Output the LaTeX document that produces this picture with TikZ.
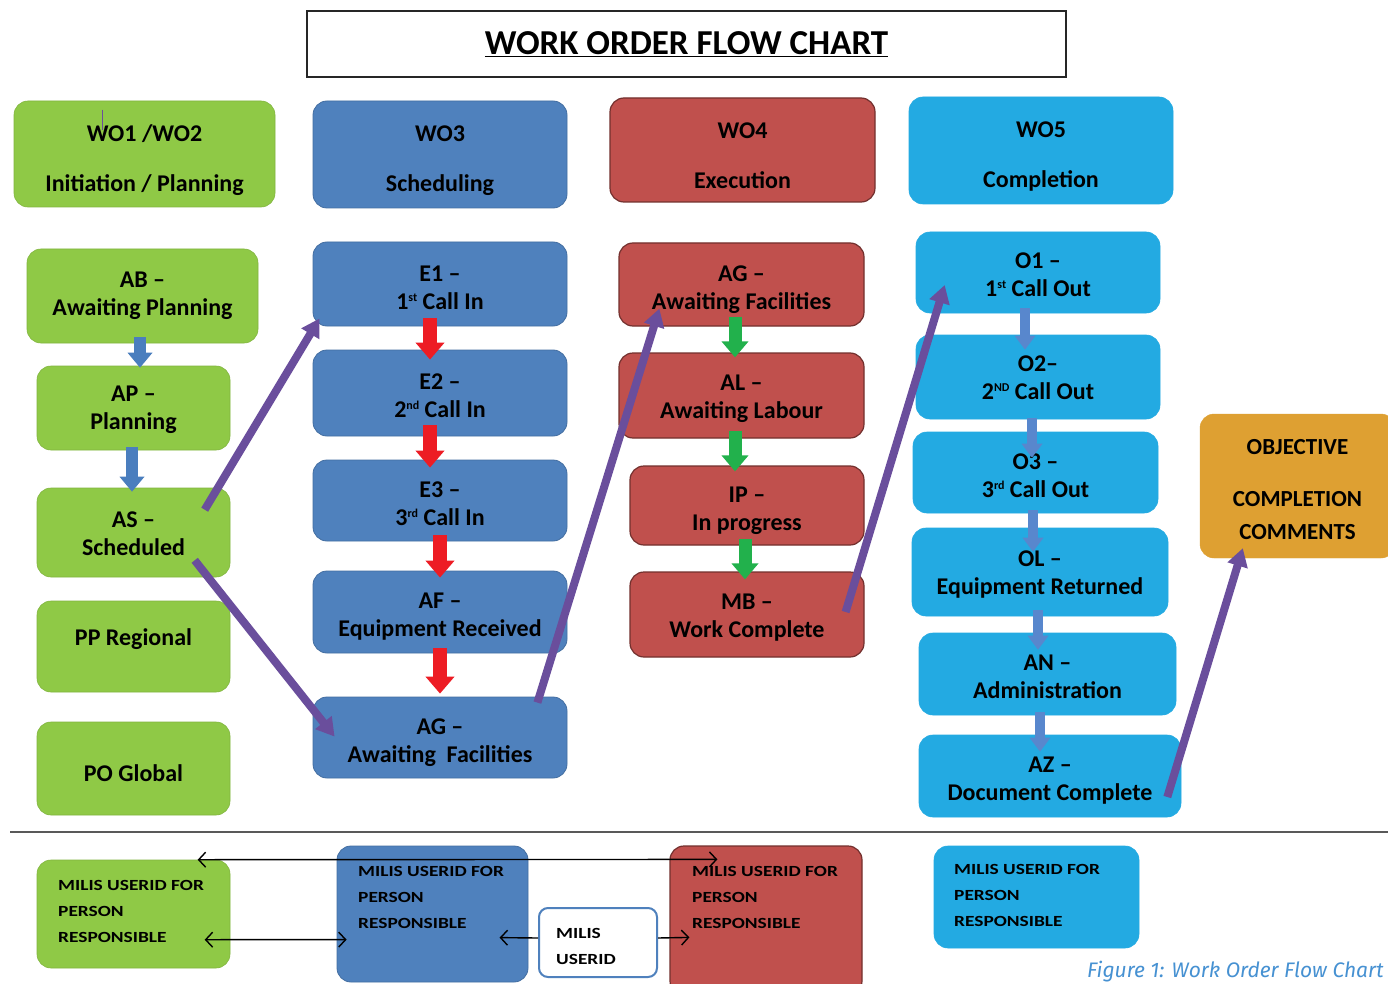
\documentclass[tikz,border=0pt]{standalone}
\usepackage{fontspec}
\setmainfont{Carlito}
\newfontfamily\widefont{Carlito}[FakeStretch=1.25]
\newfontfamily\capfont{Fira Sans}
\usetikzlibrary{arrows.meta,calc}
\definecolor{cgreen}{RGB}{143,201,70}
\definecolor{cblue}{RGB}{79,129,189}
\definecolor{cred}{RGB}{192,80,77}
\definecolor{ccyan}{RGB}{35,170,226}
\definecolor{corange}{RGB}{222,160,50}
\definecolor{cpurple}{RGB}{106,78,156}
\definecolor{arrred}{RGB}{237,28,36}
\definecolor{arrgreen}{RGB}{34,177,76}
\definecolor{arrblue}{RGB}{74,126,190}
\definecolor{arrcyan}{RGB}{88,135,205}
\definecolor{capblue}{RGB}{70,145,210}
\newcommand\sups[1]{\raisebox{8pt}{\fontsize{12}{12}\selectfont #1}}
\tikzset{
  box/.style={rounded corners=14pt, inner sep=0pt},
  gbox/.style={box, fill=cgreen, draw=cgreen!90!black, line width=0.6pt},
  bbox/.style={box, fill=cblue, draw=cblue!85!black, line width=0.8pt},
  rbox/.style={box, fill=cred, draw=cred!60!black, line width=1.2pt},
  cbox/.style={box, fill=ccyan, draw=ccyan, line width=0.6pt},
  obox/.style={box, fill=corange, draw=corange},
  mubox/.style={box, rounded corners=9pt, fill=white, draw=cblue, line width=2pt},
  bt/.style={inner sep=0pt, align=center, font=\fontsize{24}{28}\selectfont\bfseries},
  ht/.style={bt, font=\fontsize{24}{50}\selectfont\bfseries},
  ot/.style={bt, font=\fontsize{23}{33}\selectfont\bfseries},
  btxt/.style={anchor=north west, inner sep=0pt, align=left,
    font=\widefont\bfseries\fontsize{15.5}{26}\selectfont},
  redarr/.style={draw=arrred, line width=14pt, -{Triangle[width=28pt,length=17pt]}},
  grnarr/.style={draw=arrgreen, line width=13pt, -{Triangle[width=26pt,length=16pt]}},
  bluarr/.style={draw=arrblue, line width=12pt, -{Triangle[width=24pt,length=15pt]}},
  cyarr/.style={draw=arrcyan, line width=10pt, -{Triangle[width=20pt,length=14pt]}},
  purarr/.style={draw=cpurple, line width=8pt, -{Triangle[width=20pt,length=18pt]}},
  thinarr/.style={draw=black, line width=1.4pt, {Straight Barb[length=7pt,width=15pt]}-{Straight Barb[length=7pt,width=15pt]}},
  thinarr1/.style={draw=black, line width=1.4pt, -{Straight Barb[length=7pt,width=15pt]}}
}
% box with text: name, x1, y1, x2, y2, box style, text style, text dy, text
\newcommand\bx[9]{\node[#6, minimum width={#4-#2}, minimum height={#5-#3}] (#1) at ({(#2+#4)/2},{(#3+#5)/2}) {};
  \node[#7] (#1-t) at ($(#1.center)+(0,#8)$) {#9};}
% empty box
\newcommand\bxe[6]{\node[#6, minimum width={#4-#2}, minimum height={#5-#3}] (#1) at ({(#2+#4)/2},{(#3+#5)/2}) {};}
\begin{document}
\begin{tikzpicture}[x=1pt,y=-1pt]
\useasboundingbox (0,0) rectangle (1388,984);
\clip (0,0) rectangle (1388,984);
\fill[white] (0,0) rectangle (1388,984);

% title
\node[draw=black!85, line width=1.5pt, minimum width=759, minimum height=66, inner sep=0pt,
  font=\fontsize{35}{40}\selectfont\bfseries] (title) at (686.5,44) {\underline{WORK ORDER FLOW CHART}};

% column 1
\bx{wo1}{14}{101}{275}{207}{gbox}{ht}{6}{WO1 /WO2\\Initiation / Planning}
\bx{ab}{27}{249}{258}{343}{gbox}{bt}{0}{AB --\\Awaiting Planning}
\bx{ap}{37}{366}{230}{450}{gbox}{bt}{2}{AP --\\Planning}
\bx{as}{37}{488}{230}{577}{gbox}{bt}{1.5}{AS --\\Scheduled}
\bx{pp}{37}{601}{230}{692}{gbox}{bt}{-7}{PP Regional}
\bx{po}{37}{722}{230}{815}{gbox}{bt}{5}{PO Global}
\draw[cpurple, line width=1.5pt] ($(wo1.north west)+(89,9)$) -- ($(wo1.north west)+(89,29)$);

% column 2
\bx{wo3}{313}{101}{567}{208}{bbox}{ht}{6}{WO3\\Scheduling}
\bx{e1}{313}{242}{567}{326}{bbox}{bt}{4}{E1 --\\1\sups{st} Call In}
\bx{e2}{313}{350}{567}{436}{bbox}{bt}{3}{E2 --\\2\sups{nd} Call In}
\bx{e3}{313}{460}{567}{541}{bbox}{bt}{3}{E3 --\\3\sups{rd} Call In}
\bx{af}{313}{571}{567}{653}{bbox}{bt}{5}{AF --\\Equipment Received}
\bx{agb}{313}{697}{567}{778}{bbox}{bt}{5}{AG --\\Awaiting\ \ Facilities}

% column 3
\bx{wo4}{610}{98}{875}{202}{rbox}{ht}{6}{WO4\\Execution}
\bx{agr}{619}{243}{864}{326}{rbox}{bt}{5}{AG --\\Awaiting Facilities}
\bx{al}{619}{353}{864}{438}{rbox}{bt}{3}{AL --\\Awaiting Labour}
\bx{ip}{630}{466}{864}{545}{rbox}{bt}{5}{IP --\\In progress}
\bx{mb}{630}{572}{864}{657}{rbox}{bt}{3}{MB --\\Work Complete}

% column 4
\bx{wo5}{909}{97}{1173}{204}{cbox}{ht}{6}{WO5\\Completion}
\bx{o1}{916}{232}{1160}{313}{cbox}{bt}{2}{O1 --\\1\sups{st} Call Out}
\bx{o2}{916}{335}{1160}{419}{cbox}{bt}{1}{O2--\\2\sups{ND} Call Out}
\bx{o3}{913}{432}{1158}{513}{cbox}{bt}{3}{O3 --\\3\sups{rd} Call Out}
\bx{ol}{912}{528}{1168}{616}{cbox}{bt}{3}{OL --\\Equipment Returned}
\bx{an}{919}{633}{1176}{715}{cbox}{bt}{3}{AN --\\Administration}
\bx{az}{919}{735}{1181}{817}{cbox}{bt}{5}{AZ --\\Document Complete}

% objective
\bx{obj}{1200}{414}{1395}{558}{obox}{ot}{4}{OBJECTIVE\\[19pt]COMPLETION\\COMMENTS}

% block arrows
\draw[bluarr] ($(ab.south)+(-2.5,-6)$) -- ($(ap.north)+(6.5,2)$);
\draw[bluarr] ($(ap.south)+(-1.5,-3)$) -- ($(as.north)+(-1.5,4)$);

\draw[redarr] ($(e1.south)+(-10,-8)$) -- ($(e2.north)+(-10,10)$);
\draw[redarr] ($(e2.south)+(-10,-11)$) -- ($(e3.north)+(-10,8)$);
\draw[redarr] ($(e3.south)+(0,-6)$) -- ($(af.north)+(0,7)$);
\draw[redarr] ($(af.south)+(0,-5)$) -- ($(agb.north)+(0,-3)$);

\draw[grnarr] ($(agr.south)+(-6.5,-10)$) -- ($(al.north)+(-6.5,5)$);
\draw[grnarr] ($(al.south)+(-6.5,-8)$) -- ($(ip.north)+(-12,6)$);
\draw[grnarr] ($(ip.south)+(-2,-7)$) -- ($(mb.north)+(-2,8)$);

\draw[cyarr] ($(o1.south)+(-13,-5)$) -- ($(o2.north)+(-13,15)$);
\draw[cyarr] ($(o2.south)+(-6,-1)$) -- ($(o3.north)+(-3.5,26)$);
\draw[cyarr] ($(o3.south)+(-2.5,-3)$) -- ($(ol.north)+(-7,24)$);
\draw[cyarr] ($(ol.south)+(-2,-6)$) -- ($(an.north)+(-9.5,17)$);
\draw[cyarr] ($(an.south)+(-7.5,-3)$) -- ($(az.north)+(-10,17)$);

% purple arrows
\draw[purarr] ($(as.north west)+(168,22)$) -- ($(e1.south west)+(7,-8)$);
\draw[purarr] ($(as.south west)+(158,-17)$) -- ($(agb.north west)+(22,40)$);
\draw[purarr] ($(agb.north east)+(-30,6)$) -- ($(agr.south west)+(41,-18)$);
\draw[purarr] ($(mb.east)+(-19,-2.5)$) -- ($(o1.west)+(29,12.5)$);
\draw[purarr] ($(az.east)+(-14,21)$) -- ($(obj.south west)+(43,-10)$);

% separator
\draw[black!65, line width=2pt] (10,832) -- (1388,832);

% bottom row
\bxe{bg}{37}{860}{230}{968}{gbox}
\bxe{bb}{337}{846}{528}{982}{bbox}
\bxe{mu}{539}{908}{657}{977}{mubox}
\bxe{br}{670}{846}{862}{995}{rbox}
\bxe{bc}{934}{846}{1139}{948}{cbox}
\node[btxt] (bgt) at (58,880) {MILIS USERID FOR\\PERSON\\RESPONSIBLE};
\node[btxt] (bbt) at (358,866) {MILIS USERID FOR\\PERSON\\RESPONSIBLE};
\node[btxt] (brt) at (692,866) {MILIS USERID FOR\\PERSON\\RESPONSIBLE};
\node[btxt] (bct) at (954,864) {MILIS USERID FOR\\PERSON\\RESPONSIBLE};
\node[btxt] (mut) at (556,928) {MILIS\\USERID};

\draw[thinarr] ($(bg.north west)+(161,0)$) -- ($(br.north west)+(48,14)$);
\draw[thinarr] ($(bg.north west)+(168,80)$) -- ($(bb.north west)+(10,94)$);
\draw[thinarr1] ($(mu.west)+(0,-4.5)$) -- ($(bb.north west)+(163,92)$);
\draw[thinarr1] ($(mu.east)+(0,-4.5)$) -- ($(br.north west)+(20,92)$);

% caption
\node[anchor=base west, inner sep=0pt, text=capblue, font=\capfont\itshape\fontsize{21}{24}\selectfont] (cap) at (1087,977) {Figure 1: Work Order Flow Chart};
\end{tikzpicture}
\end{document}
